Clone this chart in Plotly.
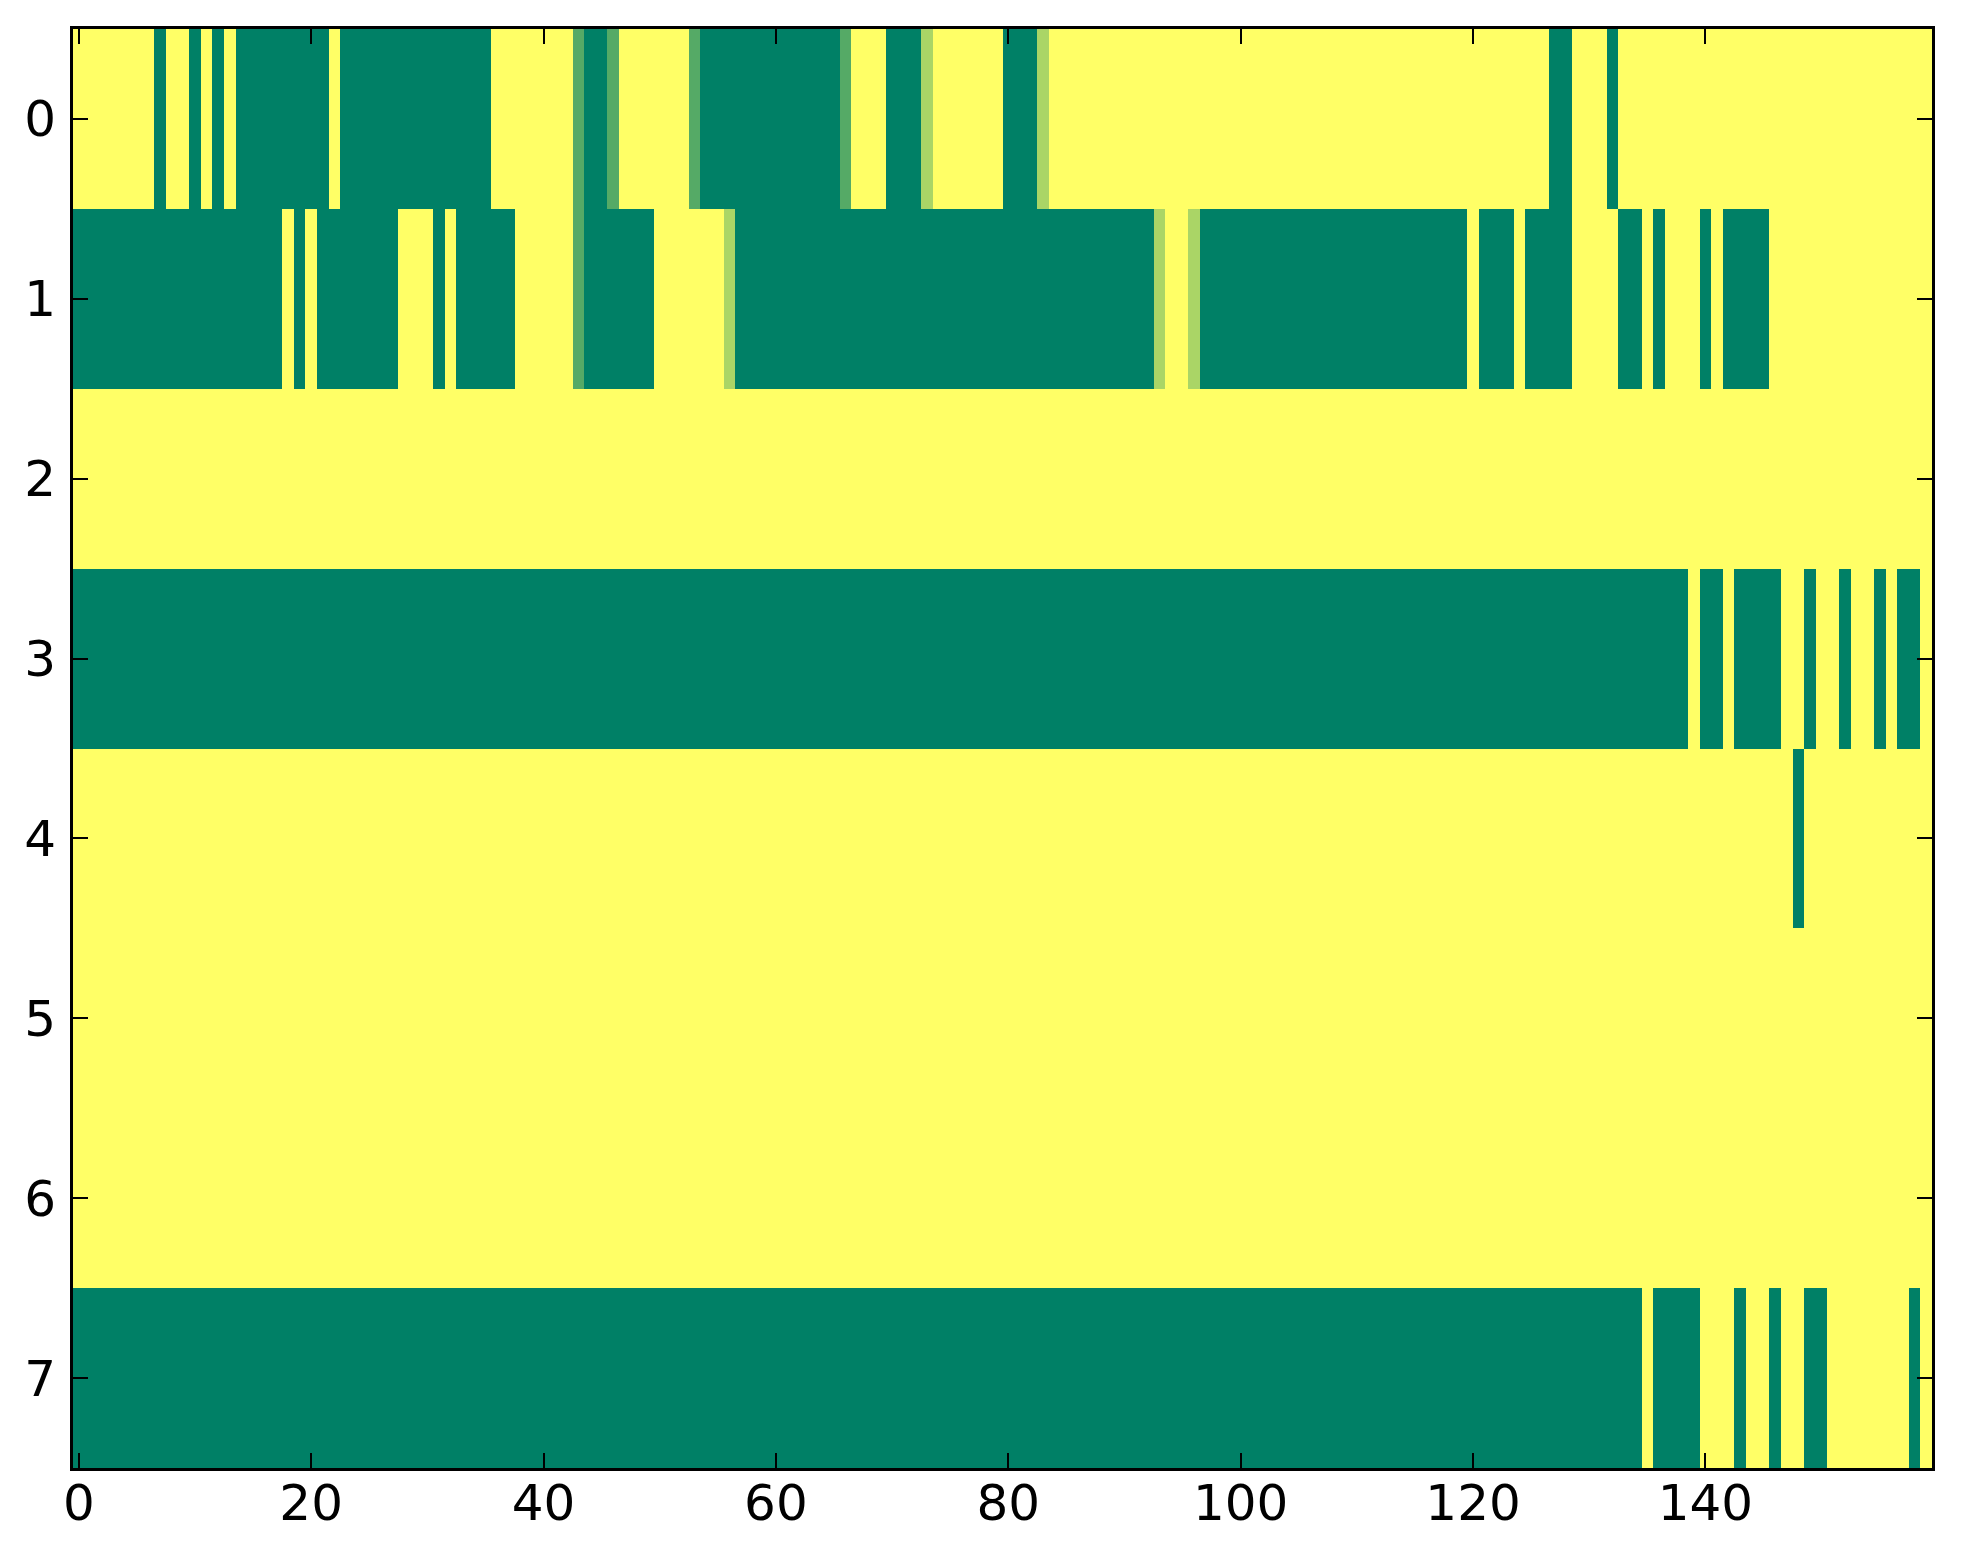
#!/usr/bin/env python3

import plotly.graph_objects as go

# one string per row, 20 cells per chunk: 0 = low, 1 = high, a = 1/3, b = 2/3
row0 = ['11111110110101000000', '00100000000000001111', '111a00a111111a000000',
        '000000a111000b111111', '000b1111111111111111', '11111111111111111111',
        '11111110011101111111', '11111111111111111111']
row1 = ['00000000000000000010', '10000000111010000011', '111a000000111111b000',
        '00000000000000000000', '0000000000000b11b000', '00000000000000000000',
        '10001000011110010111', '01000011111111111111']
row2 = ['11111111111111111111'] * 8
row3 = ['00000000000000000000'] * 6 + ['00000000000000000001', '00100001101101101001']
row4 = ['11111111111111111111'] * 7 + ['11111111011111111111']
row5 = ['11111111111111111111'] * 8
row6 = ['11111111111111111111'] * 8
row7 = ['00000000000000000000'] * 6 + ['00000000000000010000', '11101101100111111101']

rows = [row0, row1, row2, row3, row4, row5, row6, row7]
code = {'0': 0.0, 'a': 1 / 3, 'b': 2 / 3, '1': 1.0}

z = [[code[c] for c in ''.join(r)] for r in rows]
ncol = len(z[0])
x_ticks = [0, 20, 40, 60, 80, 100, 120, 140]
y_ticks = [0, 1, 2, 3, 4, 5, 6, 7]

# matplotlib 'summer'
summer = [[0.0, 'rgb(0,128,102)'], [1.0, 'rgb(255,255,102)']]

fig = go.Figure()
fig.add_heatmap(z=z, x=list(range(ncol)), y=list(range(len(z))),
                colorscale=summer, zmin=0, zmax=1, showscale=False)

axis_style = dict(showline=True, linecolor='black', linewidth=3, mirror='ticks',
                  ticks='inside', ticklen=15, tickwidth=1.5, tickcolor='black',
                  showgrid=False, zeroline=False,
                  tickfont=dict(family='DejaVu Sans', size=50, color='black'))

fig.update_xaxes(range=[-0.5, ncol - 0.5], tickvals=x_ticks, ticklabelstandoff=-11, **axis_style)
fig.update_yaxes(range=[7.5, -0.5], tickvals=y_ticks, ticklabelstandoff=4, **axis_style)

# page body adds 8px around the figure
fig.update_layout(width=1947, height=1548,
                  margin=dict(l=65, r=23, t=21, b=88, autoexpand=False),
                  plot_bgcolor='white', paper_bgcolor='white')

fig.write_html('out.html')
